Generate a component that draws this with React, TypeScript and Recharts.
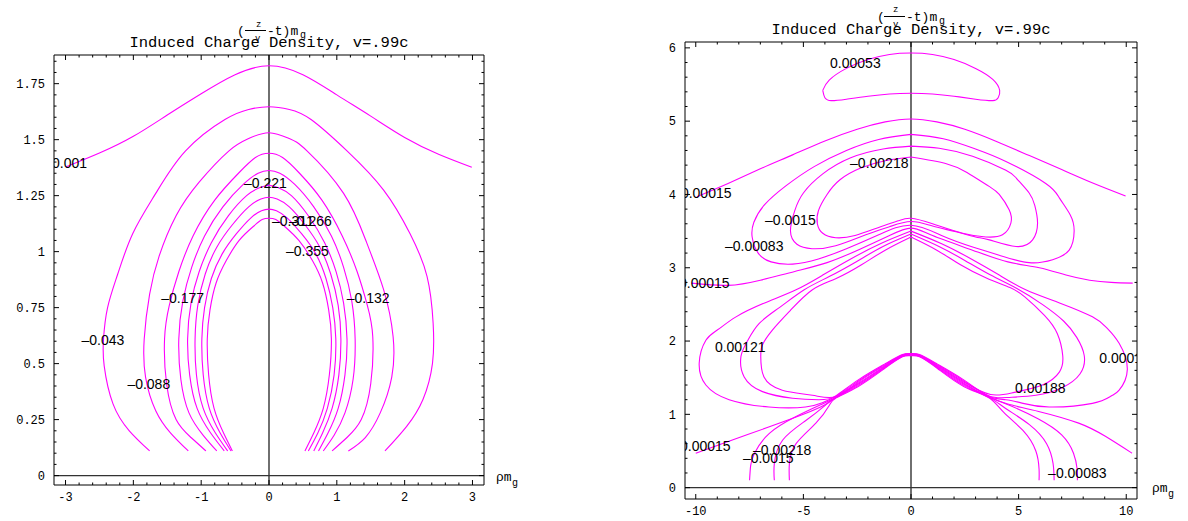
import { ScatterChart, Scatter, XAxis, YAxis, ReferenceLine } from 'recharts';

type Pt = [number, number];
const MAGENTA = '#ff00ff';
const MONO = '"Liberation Mono", "DejaVu Sans Mono", monospace';
const SANS = '"Liberation Sans", Arial, sans-serif';

// ---------- left panel: v=.99c, rho in [-3, 3] ----------
const leftXTicks = [-3, -2, -1, 0, 1, 2, 3];
const leftYTicks = [0, 0.25, 0.5, 0.75, 1, 1.25, 1.5, 1.75];

const bell001: Pt[] = [[-2.99, 1.379], [-2.5, 1.44], [-2.0, 1.515], [-1.5, 1.61], [-1.0, 1.705], [-0.5, 1.79], [0, 1.83], [0.5, 1.79], [1.0, 1.70], [1.5, 1.605], [2.0, 1.51], [2.5, 1.435], [2.99, 1.377]];
const arch1: Pt[] = [[-1.76, 0.11], [-2.06, 0.2], [-2.3, 0.32], [-2.43, 0.49], [-2.44, 0.61], [-2.38, 0.75], [-2.23, 0.9], [-2.01, 1.08], [-1.67, 1.26], [-1.23, 1.45], [-0.65, 1.59], [-0.3, 1.635], [0, 1.647], [0.3, 1.635], [0.62, 1.59], [1.15, 1.45], [1.69, 1.275], [2.08, 1.08], [2.33, 0.89], [2.42, 0.68], [2.41, 0.5], [2.27, 0.34], [2.03, 0.22], [1.71, 0.11]];
const arch2: Pt[] = [[-1.19, 0.11], [-1.45, 0.19], [-1.67, 0.29], [-1.82, 0.44], [-1.84, 0.61], [-1.76, 0.81], [-1.62, 0.98], [-1.37, 1.16], [-1.03, 1.31], [-0.59, 1.45], [-0.3, 1.505], [0, 1.531], [0.3, 1.505], [0.56, 1.45], [1.1, 1.26], [1.44, 1.04], [1.69, 0.83], [1.83, 0.62], [1.81, 0.44], [1.64, 0.28], [1.42, 0.17], [1.17, 0.11]];
const arch3: Pt[] = [[-0.93, 0.11], [-1.15, 0.17], [-1.37, 0.25], [-1.51, 0.41], [-1.54, 0.61], [-1.47, 0.76], [-1.33, 0.91], [-1.12, 1.07], [-0.8, 1.23], [-0.45, 1.35], [-0.2, 1.42], [0, 1.439], [0.2, 1.42], [0.45, 1.35], [0.78, 1.23], [1.08, 1.07], [1.3, 0.91], [1.45, 0.76], [1.53, 0.62], [1.5, 0.41], [1.36, 0.25], [1.15, 0.17], [0.93, 0.11]];
const arch4: Pt[] = [[-0.77, 0.11], [-0.97, 0.18], [-1.18, 0.28], [-1.3, 0.43], [-1.33, 0.61], [-1.27, 0.78], [-1.14, 0.93], [-0.95, 1.07], [-0.68, 1.2], [-0.38, 1.3], [-0.16, 1.35], [0, 1.362], [0.16, 1.35], [0.38, 1.3], [0.66, 1.2], [0.92, 1.07], [1.1, 0.93], [1.22, 0.78], [1.27, 0.61], [1.24, 0.43], [1.12, 0.28], [0.96, 0.18], [0.8, 0.11]];
const arch5: Pt[] = [[-0.66, 0.11], [-0.86, 0.19], [-1.06, 0.3], [-1.17, 0.45], [-1.2, 0.61], [-1.15, 0.77], [-1.03, 0.91], [-0.85, 1.04], [-0.6, 1.16], [-0.33, 1.25], [-0.14, 1.285], [0, 1.296], [0.14, 1.285], [0.33, 1.25], [0.58, 1.16], [0.82, 1.04], [0.99, 0.91], [1.1, 0.77], [1.15, 0.61], [1.12, 0.45], [1.02, 0.3], [0.87, 0.19], [0.73, 0.11]];
const arch6: Pt[] = [[-0.61, 0.11], [-0.79, 0.19], [-0.97, 0.3], [-1.07, 0.45], [-1.09, 0.61], [-1.05, 0.76], [-0.94, 0.9], [-0.77, 1.02], [-0.54, 1.12], [-0.3, 1.2], [-0.12, 1.235], [0, 1.243], [0.12, 1.235], [0.3, 1.2], [0.53, 1.12], [0.75, 1.02], [0.91, 0.9], [1.02, 0.76], [1.06, 0.61], [1.03, 0.45], [0.93, 0.3], [0.79, 0.19], [0.66, 0.11]];
const arch7: Pt[] = [[-0.56, 0.11], [-0.72, 0.19], [-0.88, 0.3], [-0.97, 0.45], [-0.99, 0.61], [-0.95, 0.75], [-0.85, 0.88], [-0.69, 0.99], [-0.48, 1.08], [-0.27, 1.15], [-0.11, 1.183], [0, 1.19], [0.11, 1.183], [0.27, 1.15], [0.48, 1.08], [0.69, 0.99], [0.84, 0.88], [0.94, 0.75], [0.985, 0.61], [0.96, 0.45], [0.86, 0.3], [0.72, 0.19], [0.58, 0.11]];
const arch8: Pt[] = [[-0.54, 0.11], [-0.67, 0.19], [-0.81, 0.3], [-0.89, 0.45], [-0.91, 0.61], [-0.87, 0.74], [-0.78, 0.86], [-0.63, 0.96], [-0.44, 1.05], [-0.24, 1.11], [-0.1, 1.143], [0, 1.149], [0.1, 1.143], [0.24, 1.11], [0.44, 1.05], [0.64, 0.96], [0.79, 0.86], [0.88, 0.74], [0.92, 0.61], [0.89, 0.45], [0.8, 0.3], [0.66, 0.19], [0.53, 0.11]];

const leftLabels = [
  { x: -3.2, y: 1.395, text: '0.001' },
  { x: -0.368, y: 1.307, text: '–0.221' },
  { x: 0.044, y: 1.138, text: '–0.311' },
  { x: 0.294, y: 1.138, text: '–0.266' },
  { x: 0.25, y: 1.004, text: '–0.355' },
  { x: -1.588, y: 0.793, text: '–0.177' },
  { x: 1.147, y: 0.793, text: '–0.132' },
  { x: -2.765, y: 0.606, text: '–0.043' },
  { x: -2.088, y: 0.409, text: '–0.088' },
];

// ---------- right panel: rho in [-10, 10] ----------
const rightXTicks = [-10, -5, 0, 5, 10];
const rightYTicks = [0, 1, 2, 3, 4, 5, 6];

const loop053: Pt[] = [[-4.1, 5.42], [-3.8, 5.56], [-3.0, 5.72], [-2.0, 5.84], [-1.0, 5.91], [0, 5.93], [1.0, 5.91], [2.0, 5.84], [3.0, 5.72], [3.8, 5.57], [4.12, 5.42], [4.05, 5.32], [3.8, 5.28], [3.0, 5.3], [2.0, 5.34], [1.0, 5.37], [0, 5.38], [-1.0, 5.37], [-2.0, 5.34], [-3.0, 5.3], [-3.7, 5.28], [-4.0, 5.32], [-4.1, 5.42]];
const upper015: Pt[] = [[-9.95, 3.97], [-8.5, 4.15], [-7, 4.35], [-5.5, 4.54], [-4, 4.73], [-2.5, 4.89], [-1.2, 4.99], [0, 5.03], [1.2, 4.99], [2.5, 4.89], [4, 4.72], [5.5, 4.53], [7, 4.34], [8.5, 4.15], [9.97, 3.98]];
const outerLobe: Pt[] = [[0, 4.82], [-1.5, 4.75], [-3, 4.6], [-4.5, 4.38], [-5.8, 4.12], [-6.8, 3.86], [-7.3, 3.62], [-7.38, 3.42], [-7.1, 3.2], [-6.5, 3.08], [-5.5, 3.05], [-4.3, 3.12], [-3, 3.26], [-1.5, 3.45], [0, 3.58], [1.5, 3.43], [2.9, 3.28], [4.1, 3.17], [5.49, 3.07], [6.58, 3.11], [7.35, 3.24], [7.58, 3.5], [7.4, 3.72], [6.9, 3.95], [6.26, 4.15], [4.41, 4.45], [3.0, 4.62], [1.5, 4.76], [0, 4.82]];
const middleLobe: Pt[] = [[0, 4.66], [-1.3, 4.62], [-2.8, 4.5], [-4.1, 4.28], [-5.0, 4.02], [-5.4, 3.78], [-5.6, 3.5], [-5.3, 3.32], [-4.6, 3.26], [-3.5, 3.3], [-2.1, 3.45], [-1, 3.56], [0, 3.63], [1.0, 3.57], [2.09, 3.49], [3.0, 3.42], [3.64, 3.38], [4.88, 3.29], [5.65, 3.38], [5.88, 3.61], [5.75, 3.85], [5.49, 4.02], [4.9, 4.22], [4.41, 4.33], [2.86, 4.52], [1.31, 4.63], [0, 4.66]];
const innerLobe: Pt[] = [[0, 4.51], [-1.2, 4.46], [-2.34, 4.36], [-3.3, 4.2], [-3.9, 4.0], [-4.3, 3.78], [-4.35, 3.6], [-4.1, 3.47], [-3.5, 3.41], [-2.6, 3.44], [-1.5, 3.55], [-0.6, 3.64], [0, 3.675], [1.0, 3.6], [2.4, 3.47], [3.48, 3.42], [4.25, 3.45], [4.64, 3.61], [4.56, 3.79], [4.1, 4.0], [3.63, 4.11], [2.6, 4.3], [1.64, 4.42], [0, 4.51]];
const mid015: Pt[] = [[-10.2, 2.79], [-8.5, 2.76], [-7, 2.83], [-5.4, 2.95], [-3.9, 3.07], [-2.4, 3.25], [-1, 3.44], [0, 3.54], [1, 3.44], [2.86, 3.24], [4.5, 3.08], [5.96, 3.0], [7.2, 2.9], [8.3, 2.83], [9.3, 2.8], [10.3, 2.79]];
const outerC: Pt[] = [[0, 3.5], [-1.4, 3.33], [-2.8, 3.12], [-4.1, 2.9], [-5.34, 2.7], [-6.8, 2.52], [-8.13, 2.33], [-9.0, 2.15], [-9.53, 2.01], [-9.84, 1.7], [-9.53, 1.4], [-8.45, 1.2], [-6.6, 1.1], [-4.9, 1.1], [-4.1, 1.16], [-3.5, 1.25], [-2.45, 1.47], [-1.23, 1.685], [-0.4, 1.815], [0, 1.83], [0.4, 1.815], [1.23, 1.685], [2.45, 1.47], [3.6, 1.25], [4.4, 1.2], [5.2, 1.15], [6.42, 1.1], [8.43, 1.15], [9.3, 1.25], [9.67, 1.33], [10.05, 1.61], [9.67, 1.97], [9.1, 2.18], [8.43, 2.33], [6.9, 2.52], [5.33, 2.7], [4.1, 2.9], [2.8, 3.12], [1.4, 3.33], [0, 3.5]];
const middleC: Pt[] = [[0, 3.46], [-1.3, 3.29], [-2.5, 3.09], [-3.8, 2.88], [-4.96, 2.7], [-6.1, 2.46], [-7.05, 2.24], [-7.6, 2.0], [-7.9, 1.79], [-7.75, 1.51], [-6.9, 1.31], [-5.5, 1.22], [-4.3, 1.2], [-3.5, 1.245], [-2.45, 1.455], [-1.23, 1.675], [-0.4, 1.81], [0, 1.825], [0.4, 1.81], [1.23, 1.675], [2.45, 1.455], [3.6, 1.255], [4.5, 1.23], [5.8, 1.26], [7.0, 1.36], [7.85, 1.55], [8.05, 1.8], [7.7, 2.05], [7.1, 2.27], [6.1, 2.5], [4.9, 2.72], [3.7, 2.9], [2.5, 3.1], [1.3, 3.29], [0, 3.46]];
const innerC: Pt[] = [[0, 3.42], [-1.2, 3.24], [-2.3, 3.04], [-3.5, 2.85], [-4.58, 2.7], [-5.6, 2.42], [-6.44, 2.15], [-6.9, 1.95], [-6.98, 1.79], [-6.83, 1.51], [-5.98, 1.33], [-4.58, 1.26], [-3.5, 1.24], [-2.45, 1.44], [-1.23, 1.665], [-0.4, 1.805], [0, 1.82], [0.4, 1.805], [1.23, 1.665], [2.45, 1.44], [3.7, 1.27], [4.8, 1.3], [6.1, 1.4], [6.9, 1.58], [7.05, 1.8], [6.8, 2.1], [6.2, 2.35], [5.3, 2.6], [4.6, 2.73], [3.5, 2.86], [2.3, 3.04], [1.2, 3.24], [0, 3.42]];
const low015: Pt[] = [[-10.0, 0.47], [-8.3, 0.65], [-6.58, 0.83], [-5.0, 1.0], [-4.0, 1.13], [-3.5, 1.235], [-2.45, 1.425], [-1.23, 1.655], [-0.4, 1.8], [0, 1.815], [0.4, 1.8], [1.23, 1.655], [2.45, 1.425], [3.6, 1.24], [4.5, 1.14], [5.93, 1.04], [7.79, 0.88], [9.03, 0.7], [10.27, 0.47]];
const descA: Pt[] = [[-7.5, 0.1], [-7.45, 0.3], [-7.27, 0.47], [-6.58, 0.74], [-5.34, 0.97], [-4.2, 1.13], [-3.5, 1.23], [-2.45, 1.41], [-1.23, 1.645], [-0.4, 1.795], [0, 1.81], [0.4, 1.795], [1.23, 1.645], [2.45, 1.41], [3.6, 1.24], [4.6, 1.12], [5.9, 0.94], [7.0, 0.72], [7.55, 0.47], [7.72, 0.25], [7.73, 0.1]];
const descB: Pt[] = [[-6.35, 0.1], [-6.35, 0.33], [-5.96, 0.65], [-4.87, 0.92], [-4.0, 1.12], [-3.5, 1.225], [-2.45, 1.395], [-1.23, 1.635], [-0.4, 1.79], [0, 1.805], [0.4, 1.79], [1.23, 1.635], [2.45, 1.395], [3.6, 1.235], [4.4, 1.08], [5.5, 0.86], [6.3, 0.6], [6.6, 0.33], [6.65, 0.1]];
const descC: Pt[] = [[-5.65, 0.1], [-5.65, 0.33], [-5.34, 0.6], [-4.42, 0.88], [-3.8, 1.12], [-3.5, 1.22], [-2.45, 1.38], [-1.23, 1.625], [-0.4, 1.785], [0, 1.8], [0.4, 1.785], [1.23, 1.625], [2.45, 1.38], [3.6, 1.23], [4.3, 1.03], [5.2, 0.78], [5.8, 0.5], [5.95, 0.25], [5.95, 0.1]];

const rightLabels = [
  { x: -3.76, y: 5.79, text: '0.00053' },
  { x: -2.83, y: 4.43, text: '–0.00218' },
  { x: -10.69, y: 4.02, text: '0.00015' },
  { x: -6.78, y: 3.65, text: '–0.0015' },
  { x: -8.64, y: 3.3, text: '–0.00083' },
  { x: -10.78, y: 2.79, text: '0.00015' },
  { x: -9.11, y: 1.915, text: '0.00121' },
  { x: -10.73, y: 0.56, text: '0.00015' },
  { x: -7.34, y: 0.51, text: '–0.00218' },
  { x: -7.81, y: 0.4, text: '–0.0015' },
  { x: 4.83, y: 1.36, text: '0.00188' },
  { x: 8.75, y: 1.77, text: '0.00015' },
  { x: 6.37, y: 0.2, text: '–0.00083' },
];

const pts = (c: Pt[]) => c.map(([x, y]) => ({ x, y }));

// major ticks plus the small in-between ones, all inside the domain
function frameTicks(domain: [number, number], step: number) {
  const out: number[] = [];
  for (let i = Math.ceil(domain[0] / step - 1e-9); i * step <= domain[1] + 1e-9; i++) {
    out.push(Number((i * step).toFixed(4)));
  }
  return out;
}

function FrameTick(p: any) {
  const { x, y, payload, side, majors } = p;
  const v = payload.value;
  const major = majors.some((m: number) => Math.abs(m - v) < 1e-6);
  const len = major ? 5 : 2.5;
  const label = String(v);
  const ln = { stroke: '#000', strokeWidth: 1 };
  if (side === 'bottom') {
    return (
      <g>
        <line x1={x} y1={y} x2={x} y2={y - len} {...ln} />
        {major && (
          <text x={x} y={y + 16} textAnchor="middle" fontFamily={MONO} fontSize={12} fill="#000">{label}</text>
        )}
      </g>
    );
  }
  if (side === 'top') return <line x1={x} y1={y} x2={x} y2={y + len} {...ln} />;
  if (side === 'left') {
    return (
      <g>
        <line x1={x} y1={y} x2={x + len} y2={y} {...ln} />
        {major && (
          <text x={x - 9} y={y} dy="0.35em" textAnchor="end" fontFamily={MONO} fontSize={12} fill="#000">{label}</text>
        )}
      </g>
    );
  }
  return <line x1={x} y1={y} x2={x - len} y2={y} {...ln} />;
}

function LabelShape(p: any) {
  return (
    <text x={p.cx} y={p.cy} dy="0.35em" fontFamily={SANS} fontSize={14} fill="#000">
      {p.payload.text}
    </text>
  );
}

type PanelProps = {
  width: number;
  height: number;
  margin: { top: number; right: number; bottom: number; left: number };
  xDomain: [number, number];
  yDomain: [number, number];
  xMajor: number[];
  yMajor: number[];
  xMinorStep: number;
  yMinorStep: number;
  yAxisWidth: number;
  xAxisHeight: number;
  contours: Pt[][];
  labels: { x: number; y: number; text: string }[];
};

function Panel(props: PanelProps) {
  const { width, height, margin, xDomain, yDomain, xMajor, yMajor, contours, labels } = props;
  const xAll = frameTicks(xDomain, props.xMinorStep);
  const yAll = frameTicks(yDomain, props.yMinorStep);
  const common = { type: 'number' as const, allowDataOverflow: true, interval: 0 as const, tickSize: 0, tickMargin: 0, tickLine: false, axisLine: { stroke: '#000', strokeWidth: 1 } };
  return (
    <ScatterChart width={width} height={height} margin={margin}>
      <XAxis xAxisId="b" dataKey="x" domain={xDomain} ticks={xAll} height={props.xAxisHeight} {...common}
        tick={(t: any) => <FrameTick {...t} side="bottom" majors={xMajor} />} />
      <XAxis xAxisId="t" dataKey="x" orientation="top" domain={xDomain} ticks={xAll} height={1} {...common}
        tick={(t: any) => <FrameTick {...t} side="top" majors={xMajor} />} />
      <YAxis yAxisId="l" dataKey="y" domain={yDomain} ticks={yAll} width={props.yAxisWidth} {...common}
        tick={(t: any) => <FrameTick {...t} side="left" majors={yMajor} />} />
      <YAxis yAxisId="r" dataKey="y" orientation="right" domain={yDomain} ticks={yAll} width={1} {...common}
        tick={(t: any) => <FrameTick {...t} side="right" majors={yMajor} />} />
      <ReferenceLine xAxisId="b" yAxisId="l" x={0} stroke="#333" strokeWidth={1.4} />
      <ReferenceLine xAxisId="b" yAxisId="l" y={0} stroke="#333" strokeWidth={1.4} />
      {contours.map((c, i) => (
        <Scatter key={i} xAxisId="b" yAxisId="l" data={pts(c)} fill={MAGENTA} stroke={MAGENTA}
          line={{ stroke: MAGENTA, strokeWidth: 1.1 }} lineJointType="natural" shape={() => <g />}
          isAnimationActive={false} legendType="none" />
      ))}
      <Scatter xAxisId="b" yAxisId="l" data={labels} shape={(s: any) => <LabelShape {...s} />}
        isAnimationActive={false} legendType="none" />
    </ScatterChart>
  );
}

function Titles() {
  const t = { fontFamily: MONO, fill: '#000' };
  return (
    <svg width={1188} height={521} style={{ position: 'absolute', left: 0, top: 0, pointerEvents: 'none' }}>
      {/* left panel heading */}
      <text x={237} y={35} fontSize={13} {...t}>(</text>
      <text x={256} y={27} fontSize={9} {...t}>z</text>
      <line x1={245} y1={30.5} x2={266} y2={30.5} stroke="#000" strokeWidth={1} />
      <text x={255} y={41} fontSize={9} {...t}>v</text>
      <text x={267} y={35} fontSize={13} {...t}>-t)m</text>
      <text x={300} y={38} fontSize={10} {...t}>g</text>
      <text x={269} y={47} fontSize={15.5} textAnchor="middle" {...t}>Induced Charge Density, v=.99c</text>
      <text x={496} y={481} fontSize={13} {...t}>ρm</text>
      <text x={512} y={486} fontSize={10} {...t}>g</text>
      {/* right panel heading */}
      <text x={877} y={21} fontSize={13} {...t}>(</text>
      <text x={893} y={12} fontSize={9} {...t}>z</text>
      <line x1={884} y1={16.5} x2={905} y2={16.5} stroke="#000" strokeWidth={1} />
      <text x={893} y={27} fontSize={9} {...t}>v</text>
      <text x={906} y={21} fontSize={13} {...t}>-t)m</text>
      <text x={939} y={24} fontSize={10} {...t}>g</text>
      <text x={911} y={34} fontSize={15.5} textAnchor="middle" {...t}>Induced Charge Density, v=.99c</text>
      <text x={1152} y={492} fontSize={13} {...t}>ρm</text>
      <text x={1168} y={497} fontSize={10} {...t}>g</text>
    </svg>
  );
}

export default function App() {
  return (
    <div style={{ position: 'absolute', left: 0, top: 0, width: 1188, height: 521, background: '#fff', overflow: 'hidden' }}>
      <div style={{ position: 'absolute', left: 0, top: 0 }}>
        <Panel width={540} height={521} margin={{ top: 54, right: 55, bottom: 0, left: 0 }}
          xDomain={[-3.17, 3.17]} yDomain={[-0.042, 1.878]} xMajor={leftXTicks} yMajor={leftYTicks}
          xMinorStep={0.2} yMinorStep={0.05} yAxisWidth={54} xAxisHeight={36}
          contours={[bell001, arch1, arch2, arch3, arch4, arch5, arch6, arch7, arch8]} labels={leftLabels} />
      </div>
      <div style={{ position: 'absolute', left: 630, top: 0 }}>
        <Panel width={558} height={521} margin={{ top: 41, right: 50, bottom: 0, left: 0 }}
          xDomain={[-10.5, 10.5]} yDomain={[-0.155, 6.08]} xMajor={rightXTicks} yMajor={rightYTicks}
          xMinorStep={1} yMinorStep={0.2} yAxisWidth={55} xAxisHeight={22}
          contours={[loop053, upper015, outerLobe, middleLobe, innerLobe, mid015, outerC, middleC, innerC, low015, descA, descB, descC]}
          labels={rightLabels} />
      </div>
      <Titles />
    </div>
  );
}
